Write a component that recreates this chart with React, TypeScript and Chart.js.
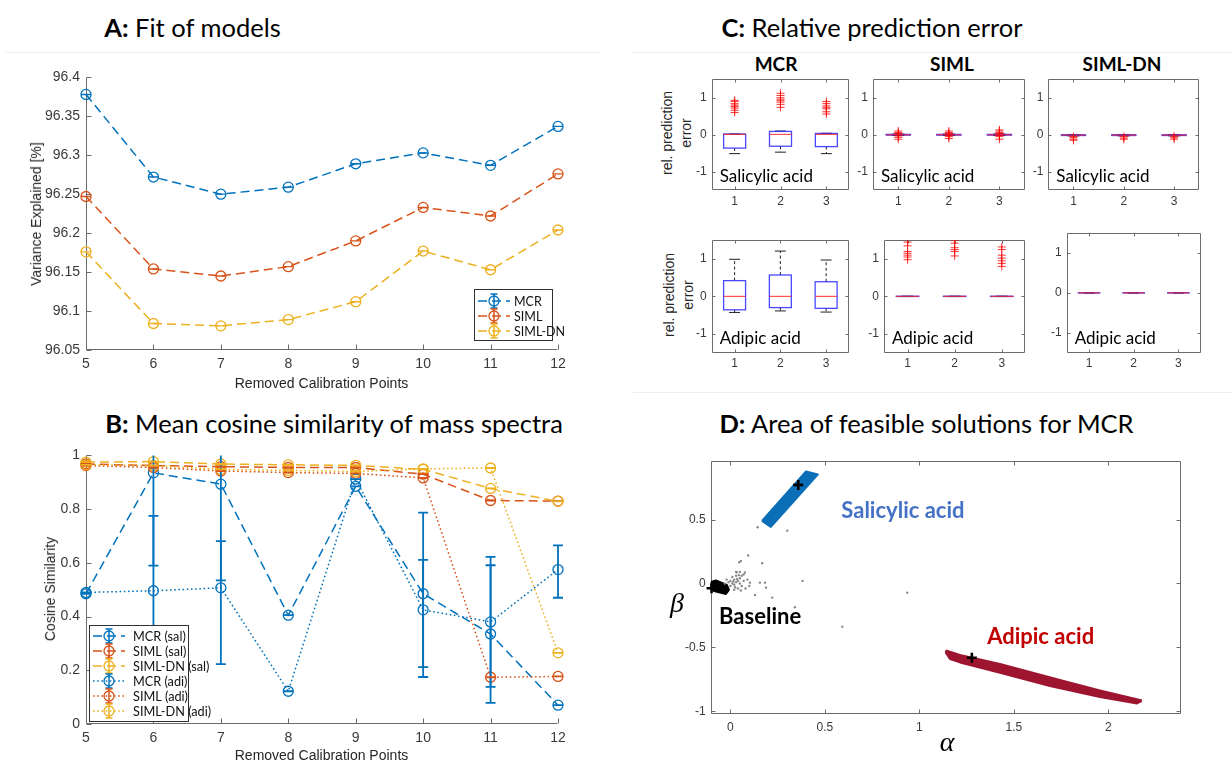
import React, { useEffect, useRef } from 'react';
import { Chart, registerables } from 'chart.js';

Chart.register(...registerables);

// ---------------- data ----------------
const calibPoints = [5, 6, 7, 8, 9, 10, 11, 12];

// A: Fit of models
const fitMCR = [96.378, 96.272, 96.25, 96.259, 96.289, 96.303, 96.287, 96.337];
const fitSIML = [96.247, 96.154, 96.145, 96.157, 96.19, 96.233, 96.222, 96.276];
const fitSIMLDN = [96.176, 96.084, 96.081, 96.089, 96.112, 96.177, 96.153, 96.204];
const fitErr = [0, 0, 0, 0, 0, 0, 0, 0];
const fitYTicks = [96.05, 96.1, 96.15, 96.2, 96.25, 96.3, 96.35, 96.4];

// B: Mean cosine similarity
const cosMcrSal = [0.485, 0.935, 0.893, 0.405, 0.885, 0.485, 0.335, 0.07];
const cosSimlSal = [0.968, 0.962, 0.958, 0.955, 0.955, 0.93, 0.832, 0.83];
const cosSimlDnSal = [0.975, 0.977, 0.968, 0.965, 0.963, 0.948, 0.877, 0.829];
const cosMcrAdi = [0.49, 0.496, 0.507, 0.122, 0.912, 0.425, 0.38, 0.575];
const cosSimlAdi = [0.962, 0.955, 0.942, 0.936, 0.933, 0.916, 0.174, 0.177];
const cosSimlDnAdi = [0.965, 0.962, 0.948, 0.944, 0.94, 0.95, 0.953, 0.265];
const cosMcrSalErrLo = [0, 0.345, 0.358, 0, 0, 0.31, 0.256, 0];
const cosMcrSalErrHi = [0, 0.1, 0.2, 0, 0, 0.302, 0.256, 0];
const cosMcrAdiErrLo = [0, 0.3, 0.284, 0, 0, 0.213, 0.242, 0.105];
const cosMcrAdiErrHi = [0, 0.279, 0.174, 0, 0, 0.186, 0.242, 0.09];
const cosZeroErr = [0, 0, 0, 0, 0, 0, 0, 0];
const cosYTicks = [0, 0.2, 0.4, 0.6, 0.8, 1];

// C: Relative prediction error — [lower whisker, q1, median, q3, upper whisker]
const boxGroups = [1, 2, 3];
const errYTicks = [-1, 0, 1];
const mcrSalBoxes = [[-0.51, -0.36, 0.01, 0.02, 0.02], [-0.47, -0.31, 0.01, 0.09, 0.1], [-0.51, -0.32, 0.01, 0.035, 0.04]];
const mcrSalOutliers = [[0.6, 0.66, 0.72, 0.76, 0.8, 0.84, 0.9, 0.93], [0.74, 0.82, 0.88, 0.92, 0.96, 1.0, 1.06, 1.12], [0.56, 0.62, 0.7, 0.74, 0.78, 0.84, 0.9]];
const simlSalBoxes = [[-0.02, -0.01, 0, 0.01, 0.02], [-0.02, -0.01, 0, 0.01, 0.02], [-0.02, -0.01, 0, 0.01, 0.02]];
const simlSalOutliers = [[-0.12, -0.07, -0.03, 0.03, 0.06, 0.1], [-0.1, -0.05, -0.02, 0.03, 0.06, 0.1], [-0.12, -0.05, -0.02, 0.03, 0.06, 0.1, 0.13]];
const simlDnSalBoxes = [[-0.03, -0.02, -0.01, 0, 0.005], [-0.03, -0.02, -0.01, 0, 0.005], [-0.03, -0.02, -0.01, 0, 0.005]];
const simlDnSalOutliers = [[-0.05, -0.08, -0.12, -0.15], [-0.05, -0.09, -0.12], [-0.04, -0.08, -0.12]];
const mcrAdiBoxes = [[-0.43, -0.36, 0, 0.42, 0.99], [-0.39, -0.3, 0, 0.57, 1.21], [-0.42, -0.32, 0, 0.39, 0.97]];
const mcrAdiOutliers = [[], [], []];
const simlAdiBoxes = [[-0.005, -0.003, 0, 0.003, 0.005], [-0.005, -0.003, 0, 0.003, 0.005], [-0.005, -0.003, 0, 0.003, 0.005]];
const simlAdiOutliers = [[0.98, 1.05, 1.1, 1.15, 1.2, 1.35, 1.45, 1.52], [1.08, 1.2, 1.25, 1.3, 1.42, 1.5], [0.8, 0.88, 0.95, 1.02, 1.1, 1.25, 1.32]];
const simlDnAdiBoxes = [[-0.005, -0.003, 0, 0.003, 0.005], [-0.005, -0.003, 0, 0.003, 0.005], [-0.005, -0.003, 0, 0.003, 0.005]];
const simlDnAdiOutliers = [[], [], []];

// D: Area of feasible solutions
const afsXTicks = [0, 0.5, 1, 1.5, 2];
const afsYTicks = [-1, -0.5, 0, 0.5];
const salicylicRegion = [[0.167, 0.489], [0.4, 0.876], [0.463, 0.853], [0.214, 0.442]];
const adipicRegion = [
  [1.141, -0.524], [1.215, -0.559], [1.427, -0.63], [1.744, -0.755], [1.956, -0.837], [2.168, -0.912],
  [2.173, -0.923], [2.152, -0.939], [1.956, -0.888], [1.691, -0.802], [1.427, -0.7], [1.215, -0.618],
  [1.162, -0.591], [1.141, -0.544],
];
const baselineRegion = [[-0.103, 0.012], [-0.077, 0.023], [-0.019, -0.012], [-0.008, -0.051], [-0.024, -0.082], [-0.087, -0.059], [-0.109, -0.035]];
const solutionDots = [
  [0.0, 0.02], [0.01, 0.0], [0.02, 0.03], [0.03, 0.01], [-0.01, 0.01], [0.0, -0.02], [0.02, -0.01], [0.04, 0.02],
  [0.01, 0.05], [0.03, 0.06], [0.05, 0.04], [0.05, 0.0], [0.06, -0.02], [0.04, -0.04], [0.02, -0.05], [0.07, 0.02],
  [0.03, 0.09], [0.05, 0.09], [0.07, 0.07], [-0.02, 0.03], [-0.03, 0.0], [0.08, -0.04], [0.09, 0.03], [0.06, 0.06],
  [0.035, 0.035], [0.015, 0.015], [0.045, 0.065], [0.025, -0.03], [0.055, -0.055], [0.1, -0.02],
  [0.144, 0.44], [0.301, 0.413], [0.094, 0.218], [0.047, 0.166], [0.055, 0.176], [0.168, 0.158], [0.382, 0.02],
  [0.936, -0.072], [0.592, -0.338], [0.341, -0.186], [0.221, -0.111], [0.13, -0.09], [0.156, 0.006],
  [0.183, 0.006], [0.188, -0.033], [0.103, 0.006], [0.077, 0.085], [0.033, 0.088],
];
const pureSpectra = [[-0.1, -0.038], [0.359, 0.771], [1.278, -0.581]];

// ---------------- style ----------------
const BLUE = '#0072BD';
const ORANGE = '#D95319';
const YELLOW = '#EDB120';
const AXIS_COLOR = '#6b6b6b';
const TICK_COLOR = '#3a3a3a';
const TICK_FONT = '"Liberation Sans", Arial, sans-serif';
const TEXT_FONT = 'Lato, "Open Sans", sans-serif';
const DASH = [9, 5];
const DOT = [1.6, 2.6];

type Area = { l: number; t: number; r: number; b: number };
type Geom = { padding: any; yw: number; xh: number; o: { x: number; y: number } };

const fmt = (v: number) => String(Number(Number(v).toFixed(3)));

function linAxis(min: number, max: number, ticks: number[], size: number, pad: number, fitSize: number) {
  return {
    type: 'linear',
    min,
    max,
    offset: false,
    grid: { display: false, drawTicks: false },
    border: { display: false },
    afterBuildTicks: (s: any) => {
      s.ticks = ticks.map((v) => ({ value: v }));
    },
    afterFit: (s: any) => {
      if (s.isHorizontal()) s.height = fitSize;
      else s.width = fitSize;
    },
    ticks: {
      autoSkip: false,
      maxRotation: 0,
      minRotation: 0,
      padding: pad,
      color: TICK_COLOR,
      font: { size, family: TICK_FONT },
      callback: (v: any) => fmt(v),
    },
  };
}

function baseOptions(padding: any, x: any, y: any) {
  return {
    responsive: false,
    maintainAspectRatio: false,
    animation: false,
    events: [],
    devicePixelRatio: 1,
    layout: { padding, autoPadding: false },
    plugins: { legend: { display: false }, tooltip: { enabled: false }, title: { display: false } },
    scales: { x, y },
  };
}

// ---------------- plugins ----------------
function axesPlugin(box: boolean, tickLen: number) {
  return {
    id: 'mlAxes',
    beforeDatasetsDraw(chart: any) {
      const { ctx, chartArea: a } = chart;
      const xs = chart.scales.x;
      const ys = chart.scales.y;
      const L = Math.round(a.left) + 0.5;
      const R = Math.round(a.right) - 0.5;
      const T = Math.round(a.top) + 0.5;
      const B = Math.round(a.bottom) - 0.5;
      ctx.save();
      ctx.strokeStyle = AXIS_COLOR;
      ctx.lineWidth = 1;
      ctx.setLineDash([]);
      ctx.beginPath();
      if (box) {
        ctx.rect(L, T, R - L, B - T);
      } else {
        ctx.moveTo(L, T);
        ctx.lineTo(L, B);
        ctx.lineTo(R, B);
      }
      for (const t of xs.ticks) {
        const p = Math.round(xs.getPixelForValue(t.value)) + 0.5;
        ctx.moveTo(p, B);
        ctx.lineTo(p, B - tickLen);
        if (box) {
          ctx.moveTo(p, T);
          ctx.lineTo(p, T + tickLen);
        }
      }
      for (const t of ys.ticks) {
        const p = Math.round(ys.getPixelForValue(t.value)) + 0.5;
        ctx.moveTo(L, p);
        ctx.lineTo(L + tickLen, p);
        if (box) {
          ctx.moveTo(R, p);
          ctx.lineTo(R - tickLen, p);
        }
      }
      ctx.stroke();
      ctx.restore();
    },
  };
}

function errorBarPlugin(capHalf: number, width: number) {
  return {
    id: 'errBars',
    afterDatasetsDraw(chart: any) {
      const { ctx, chartArea: a } = chart;
      const ys = chart.scales.y;
      ctx.save();
      ctx.beginPath();
      ctx.rect(a.left - 30, a.top, a.right - a.left + 60, a.bottom - a.top);
      ctx.clip();
      chart.data.datasets.forEach((ds: any, di: number) => {
        if (!ds.errLo) return;
        const meta = chart.getDatasetMeta(di);
        ctx.strokeStyle = ds.borderColor;
        ctx.lineWidth = width;
        ctx.setLineDash([]);
        meta.data.forEach((pt: any, i: number) => {
          const v = ds.data[i].y;
          const y1 = ys.getPixelForValue(v - ds.errLo[i]);
          const y2 = ys.getPixelForValue(v + ds.errHi[i]);
          ctx.beginPath();
          ctx.moveTo(pt.x, y1);
          ctx.lineTo(pt.x, y2);
          ctx.moveTo(pt.x - capHalf, y1);
          ctx.lineTo(pt.x + capHalf, y1);
          ctx.moveTo(pt.x - capHalf, y2);
          ctx.lineTo(pt.x + capHalf, y2);
          ctx.stroke();
        });
      });
      ctx.restore();
    },
  };
}

function legendPlugin(c: { x: number; y: number; w: number; h: number; row0: number; step: number; sx0: number; sx1: number; tx: number; font: number }) {
  return {
    id: 'mlLegend',
    afterDraw(chart: any) {
      const { ctx } = chart;
      ctx.save();
      ctx.fillStyle = '#ffffff';
      ctx.fillRect(c.x, c.y, c.w, c.h);
      ctx.strokeStyle = '#303030';
      ctx.lineWidth = 1;
      ctx.setLineDash([]);
      ctx.strokeRect(c.x + 0.5, c.y + 0.5, c.w, c.h);
      chart.data.datasets.forEach((ds: any, i: number) => {
        const y = c.row0 + i * c.step;
        const cx = (c.sx0 + c.sx1) / 2;
        ctx.strokeStyle = ds.borderColor;
        ctx.lineWidth = ds.borderWidth;
        ctx.setLineDash(ds.borderDash || []);
        ctx.beginPath();
        ctx.moveTo(c.sx0, y);
        ctx.lineTo(c.sx1, y);
        ctx.stroke();
        ctx.setLineDash([]);
        ctx.lineWidth = 1.5;
        ctx.beginPath();
        ctx.moveTo(cx, y - 7);
        ctx.lineTo(cx, y + 7);
        ctx.moveTo(cx - 3.5, y - 7);
        ctx.lineTo(cx + 3.5, y - 7);
        ctx.moveTo(cx - 3.5, y + 7);
        ctx.lineTo(cx + 3.5, y + 7);
        ctx.stroke();
        ctx.lineWidth = 1.3;
        ctx.beginPath();
        ctx.arc(cx, y, 5, 0, Math.PI * 2);
        ctx.stroke();
        ctx.fillStyle = '#111';
        ctx.font = `${c.font}px ${TEXT_FONT}`;
        ctx.textBaseline = 'middle';
        ctx.textAlign = 'left';
        ctx.fillText(ds.label, c.tx, y + 0.5);
      });
      ctx.restore();
    },
  };
}

function boxPlugin(boxes: number[][]) {
  return {
    id: 'mlBoxes',
    beforeDatasetsDraw(chart: any) {
      const { ctx } = chart;
      const xs = chart.scales.x;
      const ys = chart.scales.y;
      ctx.save();
      boxes.forEach((s, i) => {
        const g = boxGroups[i];
        const [lo, q1, med, q3, hi] = s;
        const xc = xs.getPixelForValue(g);
        const xl = xs.getPixelForValue(g - 0.24);
        const xr = xs.getPixelForValue(g + 0.24);
        const cl = xs.getPixelForValue(g - 0.12);
        const cr = xs.getPixelForValue(g + 0.12);
        const yLo = ys.getPixelForValue(lo);
        const y1 = ys.getPixelForValue(q1);
        const ym = ys.getPixelForValue(med);
        const y3 = ys.getPixelForValue(q3);
        const yHi = ys.getPixelForValue(hi);
        ctx.strokeStyle = '#222';
        ctx.lineWidth = 1;
        ctx.setLineDash([3, 2.5]);
        ctx.beginPath();
        ctx.moveTo(xc, y3);
        ctx.lineTo(xc, yHi);
        ctx.moveTo(xc, y1);
        ctx.lineTo(xc, yLo);
        ctx.stroke();
        ctx.setLineDash([]);
        ctx.beginPath();
        ctx.moveTo(cl, yHi);
        ctx.lineTo(cr, yHi);
        ctx.moveTo(cl, yLo);
        ctx.lineTo(cr, yLo);
        ctx.stroke();
        ctx.strokeStyle = 'rgba(40,40,255,0.85)';
        ctx.lineWidth = 1.3;
        ctx.strokeRect(xl, y3, xr - xl, y1 - y3);
        ctx.strokeStyle = 'rgba(255,30,30,0.85)';
        ctx.lineWidth = 1.1;
        ctx.beginPath();
        ctx.moveTo(xl, ym);
        ctx.lineTo(xr, ym);
        ctx.stroke();
      });
      ctx.restore();
    },
  };
}

function areaLabelPlugin(text: string, dx: number, dy: number, size: number) {
  return {
    id: 'areaLabel',
    afterDraw(chart: any) {
      const { ctx, chartArea: a } = chart;
      ctx.save();
      ctx.fillStyle = '#000';
      ctx.font = `${size}px ${TEXT_FONT}`;
      ctx.textBaseline = 'middle';
      ctx.textAlign = 'left';
      ctx.fillText(text, a.left + dx, a.bottom - dy);
      ctx.restore();
    },
  };
}

function dataLabelPlugin(items: { text: string; x: number; y: number; color: string }[], size: number) {
  return {
    id: 'dataLabels',
    afterDatasetsDraw(chart: any) {
      const { ctx } = chart;
      const xs = chart.scales.x;
      const ys = chart.scales.y;
      ctx.save();
      ctx.font = `bold ${size}px ${TEXT_FONT}`;
      ctx.textBaseline = 'middle';
      ctx.textAlign = 'center';
      for (const it of items) {
        ctx.fillStyle = it.color;
        ctx.fillText(it.text, xs.getPixelForValue(it.x), ys.getPixelForValue(it.y));
      }
      ctx.restore();
    },
  };
}

// ---------------- dataset helpers ----------------
function lineDs(label: string, ys: number[], color: string, dash: number[], errLo: number[], errHi: number[], order: number) {
  return {
    type: 'line',
    label,
    data: calibPoints.map((x, i) => ({ x, y: ys[i] })),
    borderColor: color,
    borderWidth: 1.5,
    borderDash: dash,
    pointStyle: 'circle',
    pointRadius: 5,
    pointBorderWidth: 1.3,
    pointBorderColor: color,
    pointBackgroundColor: 'rgba(0,0,0,0)',
    fill: false,
    tension: 0,
    clip: false,
    order,
    errLo,
    errHi,
  };
}

// ---------------- configs ----------------
function fitConfig(g: Geom) {
  const o = g.o;
  return {
    type: 'line',
    data: {
      datasets: [
        lineDs('MCR', fitMCR, BLUE, DASH, fitErr, fitErr, 3),
        lineDs('SIML', fitSIML, ORANGE, DASH, fitErr, fitErr, 2),
        lineDs('SIML-DN', fitSIMLDN, YELLOW, DASH, fitErr, fitErr, 1),
      ],
    },
    options: baseOptions(g.padding, linAxis(5, 12, calibPoints, 14, 6, g.xh), linAxis(96.05, 96.4, fitYTicks, 14, 6, g.yw)),
    plugins: [
      axesPlugin(false, 5),
      errorBarPlugin(5, 1.4),
      legendPlugin({ x: 474 - o.x, y: 289 - o.y, w: 78, h: 51, row0: 301 - o.y, step: 15, sx0: 478 - o.x, sx1: 510 - o.x, tx: 514 - o.x, font: 12.5 }),
    ],
  };
}

function cosConfig(g: Geom) {
  const o = g.o;
  return {
    type: 'line',
    data: {
      datasets: [
        lineDs('MCR (sal)', cosMcrSal, BLUE, DASH, cosMcrSalErrLo, cosMcrSalErrHi, 6),
        lineDs('SIML (sal)', cosSimlSal, ORANGE, DASH, cosZeroErr, cosZeroErr, 5),
        lineDs('SIML-DN (sal)', cosSimlDnSal, YELLOW, DASH, cosZeroErr, cosZeroErr, 4),
        lineDs('MCR (adi)', cosMcrAdi, BLUE, DOT, cosMcrAdiErrLo, cosMcrAdiErrHi, 3),
        lineDs('SIML (adi)', cosSimlAdi, ORANGE, DOT, cosZeroErr, cosZeroErr, 2),
        lineDs('SIML-DN (adi)', cosSimlDnAdi, YELLOW, DOT, cosZeroErr, cosZeroErr, 1),
      ],
    },
    options: baseOptions(g.padding, linAxis(5, 12, calibPoints, 14, 6, g.xh), linAxis(0, 1, cosYTicks, 14, 6, g.yw)),
    plugins: [
      axesPlugin(false, 5),
      errorBarPlugin(5, 1.8),
      legendPlugin({ x: 89 - o.x, y: 625 - o.y, w: 99, h: 96, row0: 636 - o.y, step: 15, sx0: 93 - o.x, sx1: 125 - o.x, tx: 133 - o.x, font: 12.7 }),
    ],
  };
}

function boxConfig(boxes: number[][], outliers: number[][], label: string) {
  return (g: Geom) => ({
    type: 'scatter',
    data: {
      datasets: [
        {
          type: 'scatter',
          data: outliers.flatMap((vals, i) => vals.map((v) => ({ x: boxGroups[i], y: v }))),
          pointStyle: 'cross',
          pointRadius: 4,
          pointBorderColor: 'rgba(255,0,0,0.8)',
          borderColor: 'rgba(255,0,0,0.8)',
          pointBorderWidth: 1,
        },
      ],
    },
    options: baseOptions(g.padding, linAxis(0.5, 3.5, boxGroups, 12, 4, g.xh), linAxis(-1.5, 1.5, errYTicks, 12, 5, g.yw)),
    plugins: [axesPlugin(true, 3), boxPlugin(boxes), areaLabelPlugin(label, 8, 14, 17)],
  });
}

function polyDs(pts: number[][], color: string, order: number) {
  return {
    type: 'line',
    data: pts.concat([pts[0]]).map(([x, y]) => ({ x, y })),
    borderColor: color,
    backgroundColor: color,
    borderWidth: 2,
    borderJoinStyle: 'round',
    fill: 'shape',
    pointRadius: 0,
    tension: 0,
    order,
  };
}

function afsConfig(g: Geom) {
  return {
    type: 'scatter',
    data: {
      datasets: [
        polyDs(salicylicRegion, '#0B6FB8', 4),
        polyDs(adipicRegion, '#9E1530', 3),
        polyDs(baselineRegion, '#000000', 2),
        {
          type: 'scatter',
          data: solutionDots.map(([x, y]) => ({ x, y })),
          pointRadius: 1.2,
          pointBackgroundColor: '#8a8a8a',
          backgroundColor: '#8a8a8a',
          pointBorderWidth: 0,
          order: 1,
        },
        {
          type: 'scatter',
          data: pureSpectra.map(([x, y]) => ({ x, y })),
          pointStyle: 'cross',
          pointRadius: 5,
          pointBorderColor: '#000',
          borderColor: '#000',
          pointBorderWidth: 2.6,
          clip: false,
          order: 0,
        },
      ],
    },
    options: baseOptions(g.padding, linAxis(-0.105, 2.385, afsXTicks, 12, 6, g.xh), linAxis(-1.024, 0.958, afsYTicks, 12, 5, g.yw)),
    plugins: [
      axesPlugin(true, 4),
      dataLabelPlugin(
        [
          { text: 'Salicylic acid', x: 0.913, y: 0.567, color: '#4472C4' },
          { text: 'Adipic acid', x: 1.642, y: -0.421, color: '#C00000' },
          { text: 'Baseline', x: 0.157, y: -0.264, color: '#000000' },
        ],
        22
      ),
    ],
  };
}

// ---------------- components ----------------
function ChartPanel({ area, margin, make }: { area: Area; margin: { l: number; t: number; r: number; b: number }; make: (g: Geom) => any }) {
  const ref = useRef<HTMLCanvasElement | null>(null);
  const x = Math.round(area.l - margin.l);
  const y = Math.round(area.t - margin.t);
  const w = Math.round(area.r - area.l + margin.l + margin.r);
  const h = Math.round(area.b - area.t + margin.t + margin.b);
  useEffect(() => {
    const g: Geom = {
      padding: { left: 0, top: area.t - y, right: x + w - area.r, bottom: 0 },
      yw: area.l - x,
      xh: y + h - area.b,
      o: { x, y },
    };
    const chart = new Chart(ref.current as HTMLCanvasElement, make(g));
    return () => chart.destroy();
  }, []);
  return <canvas ref={ref} width={w} height={h} style={{ position: 'absolute', left: x, top: y, width: w, height: h }} />;
}

function Txt({ x, y, size, children, weight, family, rot, color, italic }: any) {
  return (
    <div
      style={{
        position: 'absolute',
        left: x,
        top: y,
        transform: `translate(-50%, -50%)${rot ? ` rotate(${rot}deg)` : ''}`,
        fontSize: size,
        fontFamily: family || TEXT_FONT,
        fontWeight: weight || 'normal',
        fontStyle: italic ? 'italic' : 'normal',
        lineHeight: 1.15,
        whiteSpace: 'nowrap',
        color: color || '#000',
        textAlign: 'center',
      }}
    >
      {children}
    </div>
  );
}

const Rule = ({ x1, x2, y }: { x1: number; x2: number; y: number }) => (
  <div style={{ position: 'absolute', left: x1, top: y, width: x2 - x1, height: 1, background: '#efefef' }} />
);

export default function App() {
  const cm = { l: 32, t: 10, r: 12, b: 22 };
  const TS = 25.5;
  return (
    <div style={{ position: 'absolute', left: 0, top: 0, width: 1232, height: 761, overflow: 'hidden', background: '#fff' }}>
      <Rule x1={5} x2={600} y={52} />
      <Rule x1={633} x2={1232} y={52} />
      <Rule x1={633} x2={1232} y={392} />

      {/* Panel A */}
      <Txt x={192.5} y={28} size={TS}>
        <b>A:</b> Fit of models
      </Txt>
      <ChartPanel area={{ l: 86, t: 77.3, r: 558, b: 350 }} margin={{ l: 80, t: 20, r: 30, b: 30 }} make={fitConfig} />
      <Txt x={36} y={214} size={14} family={TICK_FONT} rot={-90} color="#262626">
        Variance Explained [%]
      </Txt>
      <Txt x={321.5} y={383} size={14} family={TICK_FONT} color="#262626">
        Removed Calibration Points
      </Txt>

      {/* Panel B */}
      <Txt x={334} y={424} size={TS}>
        <b>B:</b> Mean cosine similarity of mass spectra
      </Txt>
      <ChartPanel area={{ l: 86, t: 453.3, r: 558, b: 724 }} margin={{ l: 80, t: 12, r: 30, b: 30 }} make={cosConfig} />
      <Txt x={50} y={589} size={14} family={TICK_FONT} rot={-90} color="#262626">
        Cosine Similarity
      </Txt>
      <Txt x={321.5} y={755} size={14} family={TICK_FONT} color="#262626">
        Removed Calibration Points
      </Txt>

      {/* Panel C */}
      <Txt x={872} y={28} size={TS}>
        <b>C:</b> Relative prediction error
      </Txt>
      <Txt x={776} y={64} size={19} weight="bold">MCR</Txt>
      <Txt x={952} y={64} size={19} weight="bold">SIML</Txt>
      <Txt x={1122} y={64} size={19} weight="bold">SIML-DN</Txt>
      <Txt x={667} y={133} size={14} family={TICK_FONT} rot={-90} color="#262626">rel. prediction</Txt>
      <Txt x={686} y={133} size={14} family={TICK_FONT} rot={-90} color="#262626">error</Txt>
      <Txt x={669} y={295} size={14} family={TICK_FONT} rot={-90} color="#262626">rel. prediction</Txt>
      <Txt x={688} y={295} size={14} family={TICK_FONT} rot={-90} color="#262626">error</Txt>
      <ChartPanel area={{ l: 711.7, t: 76.7, r: 849.3, b: 190.3 }} margin={cm} make={boxConfig(mcrSalBoxes, mcrSalOutliers, 'Salicylic acid')} />
      <ChartPanel area={{ l: 873, t: 76.7, r: 1024.7, b: 190.3 }} margin={cm} make={boxConfig(simlSalBoxes, simlSalOutliers, 'Salicylic acid')} />
      <ChartPanel area={{ l: 1048.3, t: 76.7, r: 1199.3, b: 190.3 }} margin={cm} make={boxConfig(simlDnSalBoxes, simlDnSalOutliers, 'Salicylic acid')} />
      <ChartPanel area={{ l: 711.7, t: 238.3, r: 849, b: 352.5 }} margin={cm} make={boxConfig(mcrAdiBoxes, mcrAdiOutliers, 'Adipic acid')} />
      <ChartPanel area={{ l: 884, t: 238.3, r: 1025.3, b: 352.5 }} margin={cm} make={boxConfig(simlAdiBoxes, simlAdiOutliers, 'Adipic acid')} />
      <ChartPanel area={{ l: 1066.7, t: 230.7, r: 1200.7, b: 352.5 }} margin={cm} make={boxConfig(simlDnAdiBoxes, simlDnAdiOutliers, 'Adipic acid')} />

      {/* Panel D */}
      <Txt x={926.5} y={424} size={TS}>
        <b>D:</b> Area of feasible solutions for MCR
      </Txt>
      <ChartPanel area={{ l: 710.6, t: 461, r: 1181, b: 714.3 }} margin={{ l: 40, t: 15, r: 20, b: 25 }} make={afsConfig} />
      <Txt x={947} y={742} size={28} family={'"Liberation Serif", serif'} italic>
        α
      </Txt>
      <Txt x={677} y={603} size={28} family={'"Liberation Serif", serif'} italic>
        β
      </Txt>
    </div>
  );
}
